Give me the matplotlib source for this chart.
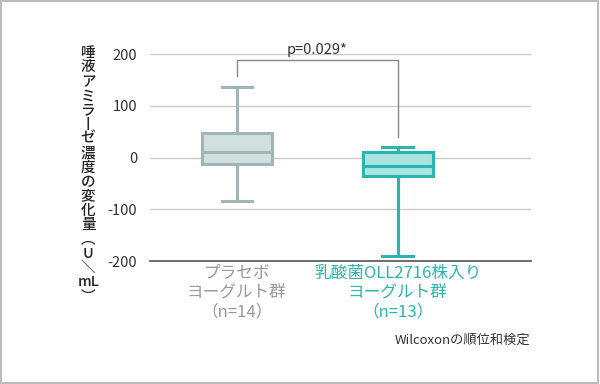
import matplotlib.pyplot as plt
from matplotlib.patches import Rectangle

plt.rcParams['font.family'] = ['Noto Sans CJK JP', 'DejaVu Sans']

# box statistics (U/mL)
groups = ['プラセボ\nヨーグルト群\n（n=14）', '乳酸菌OLL2716株入り\nヨーグルト群\n（n=13）']
whislo = [-83, -190]
q1 = [-12, -35]
med = [10, -17]
q3 = [48, 10]
whishi = [137, 21]
edge_colors = ['#a2b5b5', '#2bb5b0']
face_colors = ['#d0e0df', '#aae4e0']
label_colors = ['#999999', '#2bb5b0']
yticks = [-200, -100, 0, 100, 200]
p_text = 'p=0.029*'
ylabel = '唾液アミラーゼ濃度の変化量（U/mL）'

fig = plt.figure(figsize=(6, 3.84), dpi=100)
ax = fig.add_axes([0.25, 0.32, 0.635, 0.539])

stats = []
for i in range(2):
    stats.append({'whislo': whislo[i], 'q1': q1[i], 'med': med[i],
                  'q3': q3[i], 'whishi': whishi[i], 'fliers': []})

for i in range(2):
    ax.bxp([stats[i]], positions=[i + 1], widths=0.435, patch_artist=True,
           showfliers=False,
           boxprops=dict(facecolor=face_colors[i], edgecolor=edge_colors[i], linewidth=2.2),
           medianprops=dict(color=edge_colors[i], linewidth=2.2),
           whiskerprops=dict(color=edge_colors[i], linewidth=2.2),
           capprops=dict(color=edge_colors[i], linewidth=2.2),
           capwidths=0.19, zorder=3)

ax.set_xlim(0.46, 2.83)
ax.set_ylim(-200, 200)
ax.set_yticks(yticks)
ax.set_yticklabels([str(v) for v in yticks], color='#333333', fontsize=10.5)
ax.tick_params(axis='y', length=0, pad=9)
ax.set_xticks([])
ax.grid(axis='y', color='#cccccc', linewidth=1)
ax.set_axisbelow(True)
for s in ['top', 'right', 'left']:
    ax.spines[s].set_visible(False)
ax.spines['bottom'].set_color('#555555')
ax.spines['bottom'].set_linewidth(1.2)

# significance bracket
ax.plot([1, 1, 2, 2], [158, 188, 188, 40], color='#888888', linewidth=1, clip_on=False)
ax.text(1.5, 194, p_text, ha='center', va='bottom', fontsize=10.5, color='#333333')

# group labels
for i in range(2):
    ax.text(i + 1, -208, groups[i], ha='center', va='top', fontsize=12,
            color=label_colors[i], linespacing=1.15)

fig.text(0.883, 0.115, 'Wilcoxonの順位和検定', ha='right', va='center',
         fontsize=9.5, color='#333333')

# vertical y label
vert = {'ー': '丨', '（': '︵', '）': '︶', '/': '＼'}
chars = []
s = ylabel.replace('mL', '\x00')
for c in s:
    if c == '\x00':
        chars.append('mL')
    else:
        chars.append(vert.get(c, c))
fig.text(0.147, 0.88, '\n'.join(chars), ha='center', va='top', fontsize=10.5,
         color='#222222', linespacing=1.03, fontweight='medium')

# outer border
fig.add_artist(Rectangle((0.002, 0.003), 0.995, 0.994, transform=fig.transFigure,
                         fill=False, edgecolor='#bbbbbb', linewidth=1.5))

fig.savefig('out.png', dpi=100)
